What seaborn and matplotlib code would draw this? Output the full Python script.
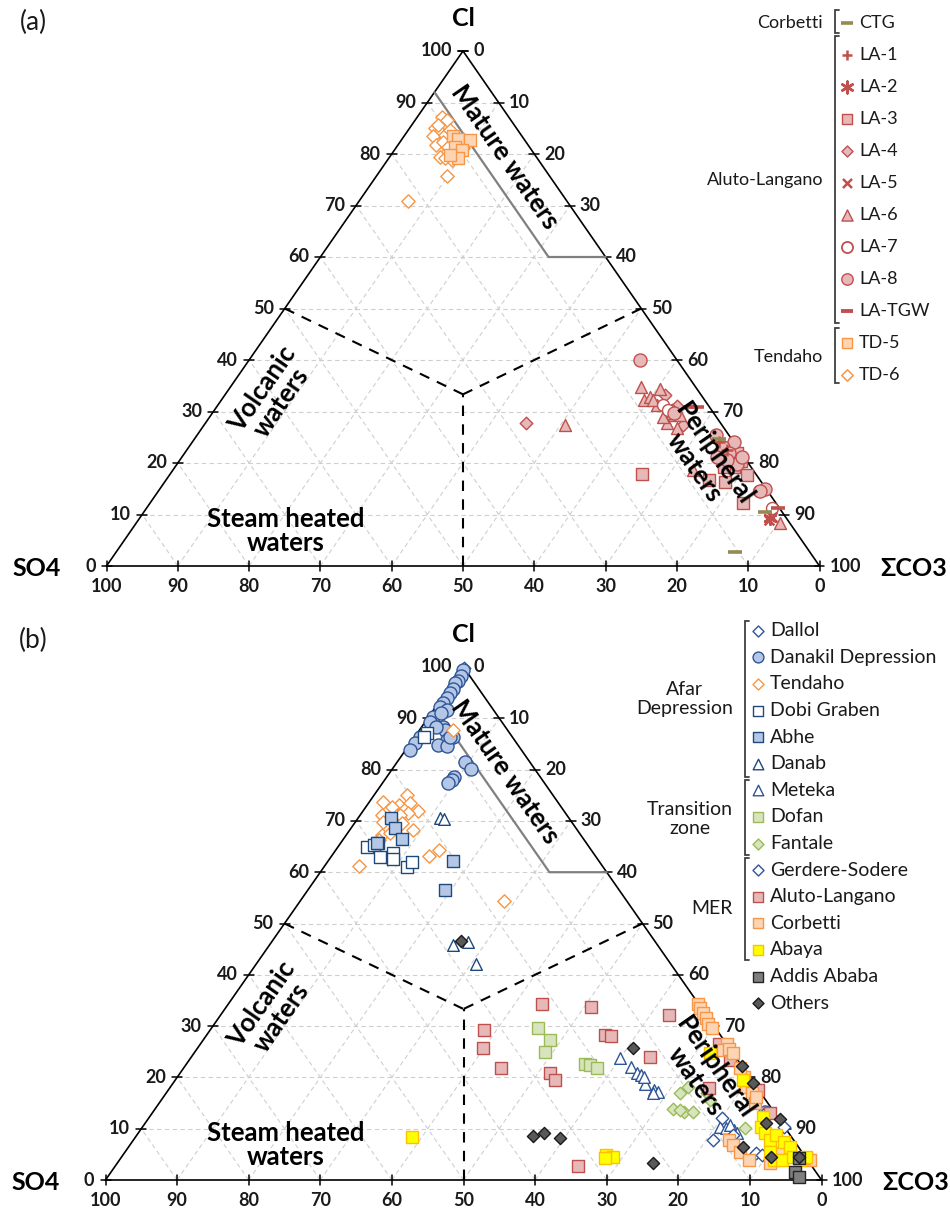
import numpy as np
import matplotlib
matplotlib.use("Agg")
import matplotlib.pyplot as plt
import seaborn as sns

sns.set_theme(style="white")
plt.rcParams['font.family'] = ['Lato', 'DejaVu Sans']

# ----------------------------------------------------------------------
# Composition data, % of (Cl + SO4 + ΣCO3); SO4 is the remainder.
# ----------------------------------------------------------------------
# (a) Corbetti / Aluto-Langano / Tendaho wells
ctg_cl = [10.5, 2.8, 24.6]
ctg_co3 = [87.1, 86.7, 73.6]
la1_cl = [24.1, 22.5]
la1_co3 = [73.8, 75.8]
la2_cl = [9.3]
la2_co3 = [88.4]
la3_cl = [17.9, 16.7, 16.4, 17.7, 12.2, 21.9, 20.3, 21.2, 19.3, 19.3]
la3_co3 = [66.2, 76.1, 78.5, 81.0, 83.2, 77.5, 78.9, 75.4, 78.3, 76.9]
la4_cl = [27.8, 33.2, 31.1, 27.4, 30.3]
la4_co3 = [44.9, 61.7, 64.4, 67.2, 64.1]
la5_cl = [8.9, 9.6]
la5_co3 = [88.4, 88.5]
la6_cl = [34.7, 32.2, 32.8, 34.3, 31.3, 29.3, 27.7, 26.7, 27.4, 8.4, 18.6, 29.7, 29.0, 29.3, 32.2]
la6_co3 = [57.6, 59.3, 59.8, 60.5, 61.5, 64.2, 64.7, 66.6, 50.6, 90.2, 73.0, 64.4, 63.6, 65.8, 60.6]
la7_cl = [31.3, 11.2, 14.5, 30.3]
la7_co3 = [62.4, 87.7, 84.2, 63.6]
la8_cl = [40.0, 25.4, 24.1, 23.2, 19.9, 21.9, 14.9, 14.5, 29.7, 20.6, 21.2, 21.2]
la8_co3 = [54.8, 72.8, 76.0, 74.9, 78.5, 76.3, 84.9, 84.4, 64.7, 76.7, 75.0, 78.5]
latgw_cl = [30.9, 30.9, 11.2]
latgw_co3 = [67.3, 66.4, 88.6]
td5_cl = [83.4, 83.0, 82.7, 81.4, 80.8, 79.2, 79.8]
td5_co3 = [6.9, 7.8, 9.6, 8.2, 9.4, 9.7, 8.3]
td6_cl = [87.2, 86.6, 85.0, 84.3, 83.4, 83.7, 81.7, 82.4, 80.4, 79.5, 78.8, 79.2,
          81.4, 81.1, 75.8, 70.9, 85.6, 84.7]
td6_co3 = [3.4, 4.4, 3.6, 4.6, 4.1, 5.6, 5.4, 6.0, 7.5, 7.0, 9.0, 7.9,
           7.2, 9.5, 9.9, 6.8, 3.7, 5.8]

# (b) Regional thermal waters
dallol_cl = [99.8]
dallol_co3 = [0.1]
danakil_cl = [99.4, 98.2, 97.3, 96.9, 95.8, 94.9, 93.9, 92.9, 92.3, 91.6, 90.3, 89.3,
              91.0, 88.4, 87.7, 86.4, 85.8, 84.8, 84.6, 86.4, 85.1, 83.8, 81.5, 80.2,
              78.6, 78.0, 77.3, 86.4, 88.4, 13.3]
danakil_co3 = [0.2, 0.5, 0.6, 0.4, 0.7, 0.7, 0.7, 0.7, 0.6, 1.9, 0.6, 0.7,
               1.4, 3.0, 3.6, 5.4, 4.8, 4.1, 5.4, 0.7, 0.7, 0.6, 9.4, 11.0,
               9.4, 9.4, 9.2, 4.9, 2.0, 85.5]
tendaho_cl = [75.0, 73.6, 73.1, 73.4, 72.8, 72.1, 72.0, 71.5, 71.2, 71.2, 69.7, 69.9,
              69.6, 68.2, 67.3, 67.6, 66.3, 64.3, 63.2, 61.2, 54.4, 87.7]
tendaho_co3 = [4.6, 1.9, 4.4, 5.8, 3.6, 5.6, 7.6, 6.5, 3.0, 5.5, 3.9, 5.2,
               6.6, 8.9, 4.9, 5.9, 5.0, 14.4, 13.6, 4.8, 28.4, 4.7]
dobi_cl = [87.1, 86.4, 65.0, 65.3, 65.7, 62.9, 63.7, 62.5, 61.0, 61.9]
dobi_co3 = [1.3, 1.3, 4.0, 4.8, 5.2, 6.9, 8.3, 8.9, 11.6, 11.8]
abhe_cl = [70.5, 68.6, 66.5, 65.6, 62.2, 56.5]
abhe_co3 = [4.6, 6.2, 8.1, 5.1, 17.5, 19.1]
danab_cl = [70.5, 70.3, 45.8, 46.3, 42.2]
danab_co3 = [11.4, 12.1, 25.7, 27.5, 30.7]
meteka_cl = [23.7, 22.1, 20.8, 20.5, 18.8, 17.5, 17.2, 20.1, 16.9,
             10.4, 10.1, 9.7, 10.7, 9.1]
meteka_co3 = [60.0, 62.4, 63.8, 64.6, 65.9, 67.8, 68.6, 65.1, 68.0,
              80.6, 81.6, 82.9, 81.9, 83.6]
dofan_cl = [29.6, 27.3, 25.0, 22.6, 22.4, 21.8]
dofan_co3 = [45.6, 48.5, 48.9, 55.6, 56.5, 57.7]
fantale_cl = [13.8, 17.0, 13.3, 13.3, 15.6, 10.1, 18.2, 13.6, 16.9]
fantale_co3 = [72.4, 71.7, 74.2, 75.4, 76.6, 84.2, 72.3, 73.4, 75.5]
gerdere_cl = [12.0, 7.8, 5.2, 4.9, 13.0, 10.4, 8.8]
gerdere_co3 = [80.1, 81.0, 88.3, 89.2, 85.6, 89.5, 83.2]
aluto_cl = [34.4, 33.8, 32.2, 28.3, 28.1, 29.2, 25.7, 21.8, 20.8, 19.5, 23.9, 17.9,
            2.8, 26.5, 23.4, 17.5, 13.1, 4.2]
aluto_co3 = [43.7, 50.9, 62.6, 55.6, 56.5, 38.2, 39.9, 44.4, 51.7, 53.0, 64.1, 75.3,
             64.6, 72.4, 75.5, 82.4, 86.2, 95.8]
corbetti_cl = [34.4, 33.5, 32.5, 31.5, 30.5, 29.6, 26.6, 25.3, 25.5, 20.1, 18.2, 16.9,
               15.0, 16.2, 7.8, 6.8, 5.5, 3.9, 3.9, 4.2, 3.3, 5.2, 21.8, 24.7]
corbetti_co3 = [65.6, 66.3, 67.2, 68.1, 68.9, 69.9, 73.5, 73.6, 74.4, 79.1, 80.4, 81.8,
                83.2, 82.8, 83.2, 84.2, 85.8, 87.9, 96.4, 95.4, 91.1, 91.8, 77.7, 75.3]
abaya_cl = [19.5, 24.7, 12.3, 10.4, 9.1, 7.8, 8.8, 7.5, 6.5, 5.5, 3.9, 3.9, 4.5, 3.9,
            4.5, 4.9, 4.4, 4.2, 8.3]
abaya_co3 = [79.3, 72.1, 85.7, 86.4, 87.5, 88.9, 89.3, 91.0, 92.4, 90.1, 91.4, 92.6,
             93.8, 95.1, 95.6, 67.5, 68.7, 67.7, 38.7]
addis_cl = [1.6, 0.6, 4.2]
addis_co3 = [95.5, 96.5, 94.8]
others_cl = [25.8, 22.3, 19.0, 11.9, 11.2, 6.5, 4.4, 4.4, 8.6, 9.2, 8.1, 3.4, 46.6]
others_co3 = [60.8, 77.7, 81.0, 88.2, 86.7, 85.8, 90.8, 94.6, 55.4, 56.7, 59.4, 74.7, 26.3]

# axis tick values
tick_vals = list(range(0, 101, 10))

# colours
RED, PINK = '#C0504D', '#E6B9B8'
ORANGE, PEACH = '#F79646', '#FCD5B5'
OLIVE = '#948A54'
NAVY, BLUE, LBLUE = '#1F497D', '#2F5597', '#B4C7E7'
GREEN, LGREEN = '#9BBB59', '#D7E4BD'
YELLOW, GOLD = '#FFFF00', '#FFC000'

W, H = 950, 1208
fig = plt.figure(figsize=(W / 100, H / 100), dpi=100)


def tern(cl, co3):
    cl = np.asarray(cl, float)
    co3 = np.asarray(co3, float)
    return co3 / 100 + cl / 200, cl / 100


def px_axes(left, base, width, height):
    return fig.add_axes([left / W, (H - base) / H, width / W, height / H])


def frame(ax, wpx, hpx):
    ax.set_xlim(0, 1)
    ax.set_ylim(0, 1)
    ax.axis('off')
    gk = dict(color='#CFCFCF', lw=0.8, ls=(0, (4, 3)), zorder=1)
    for k in range(10, 100, 10):
        f = k / 100
        ax.plot([f / 2, 1 - f / 2], [f, f], **gk)
        ax.plot([f, f + (1 - f) / 2], [0, 1 - f], **gk)
        ax.plot([1 - f, (1 - f) / 2], [0, 1 - f], **gk)
    ax.plot([0, 1, 0.5, 0], [0, 0, 1, 0], color='black', lw=1.2, zorder=2,
            solid_joinstyle='miter', clip_on=False)
    tx, ty = 5 / wpx, 5 / hpx
    tk = dict(color='black', lw=1.1, zorder=2, clip_on=False)
    lab = dict(fontsize=13, fontweight='bold', color='#1a1a1a')
    for v in tick_vals:
        f = v / 100
        ax.plot([f, f], [-ty, ty], **tk)
        ax.text(f, -21 / hpx, str(100 - v), ha='center', va='center', **lab)
        lx, ly = f / 2, f
        ax.plot([lx - tx, lx + tx], [ly, ly], **tk)
        ax.text(lx - 11 / wpx, ly, str(v), ha='right', va='center', **lab)
        rx = 1 - f / 2
        ax.plot([rx - tx, rx + tx], [ly, ly], **tk)
        ax.text(rx + 10 / wpx, ly, str(100 - v), ha='left', va='center', **lab)
    ck = dict(fontsize=18, fontweight='bold', color='black', va='center')
    ax.text(0.5, 1 + 33 / hpx, 'Cl', ha='center', **ck)
    ax.text(-70 / wpx, -2 / hpx, 'SO4', ha='center', **ck)
    ax.text(1 + 94 / wpx, -2 / hpx, 'ΣCO3', ha='center', **ck)
    # field boundaries
    dk = dict(color='black', lw=1.5, ls=(0, (5, 4)), zorder=2)
    cx, cy = tern(100 / 3, 100 / 3)
    for cl, co3 in [(50, 0), (50, 50), (0, 50)]:
        px, py = tern(cl, co3)
        ax.plot([px, cx], [py, cy], **dk)
    mx, my = tern([92, 60, 60], [0, 32, 40])
    ax.plot(mx, my, color='#808080', lw=1.6, zorder=2)
    rot = np.degrees(np.arctan2(hpx, wpx / 2))
    fk = dict(fontsize=18.5, fontweight='bold', color='black', ha='center',
              va='center', linespacing=1.0, zorder=5)
    ax.text(0.558, 0.795, 'Mature waters', rotation=-rot, **fk)
    ax.text(0.232, 0.33, 'Volcanic\nwaters', rotation=rot, **fk)
    ax.text(0.252, 0.068, 'Steam heated\nwaters', **fk)
    ax.text(0.838, 0.205, 'Peripheral\nwaters', rotation=-rot, **fk)


def draw(ax, cl, co3, marker, face, edge, size, lw=1.0, z=3):
    x, y = tern(cl, co3)
    sns.scatterplot(x=x, y=y, ax=ax, marker=marker, s=size ** 2, color=face,
                    edgecolor=edge, linewidth=lw, zorder=z, clip_on=False,
                    legend=False)


def draw_line_marker(ax, cl, co3, marker, color, size, lw=1.8, z=3):
    x, y = tern(cl, co3)
    sns.scatterplot(x=x, y=y, ax=ax, marker=marker, s=size ** 2, color=color,
                    linewidth=lw, zorder=z, clip_on=False, legend=False)


# ---------------- panel (a) ----------------
axa = px_axes(106.5, 566, 713, 515)
frame(axa, 713, 515)
draw(axa, td6_cl, td6_co3, 'D', 'white', ORANGE, 6.8)
draw(axa, td5_cl, td5_co3, 's', PEACH, ORANGE, 8.8)
draw(axa, la3_cl, la3_co3, 's', PINK, RED, 8.6)
draw(axa, la4_cl, la4_co3, 'D', PINK, RED, 6.4)
draw(axa, la6_cl, la6_co3, '^', PINK, RED, 8.6)
draw(axa, la7_cl, la7_co3, 'o', 'white', RED, 8.6)
draw(axa, la8_cl, la8_co3, 'o', PINK, RED, 9.4)
draw_line_marker(axa, la1_cl, la1_co3, '+', RED, 8)
draw_line_marker(axa, la2_cl, la2_co3, (6, 2, 0), RED, 9)
draw_line_marker(axa, la5_cl, la5_co3, 'x', RED, 7)
draw_line_marker(axa, latgw_cl, latgw_co3, '_', RED, 9.5, lw=2.6)
draw_line_marker(axa, ctg_cl, ctg_co3, '_', OLIVE, 9.5, lw=2.6)

# ---------------- panel (b) ----------------
axb = px_axes(105.5, 1180, 716, 513)
frame(axb, 716, 513)
draw(axb, dallol_cl, dallol_co3, 'D', 'white', BLUE, 6.4)
draw(axb, danakil_cl, danakil_co3, 'o', LBLUE, BLUE, 9.4)
draw(axb, tendaho_cl, tendaho_co3, 'D', 'white', ORANGE, 6.8)
draw(axb, dobi_cl, dobi_co3, 's', 'white', NAVY, 8.4)
draw(axb, abhe_cl, abhe_co3, 's', LBLUE, NAVY, 8.4)
draw(axb, danab_cl, danab_co3, '^', 'white', NAVY, 8.4)
draw(axb, meteka_cl, meteka_co3, '^', 'white', BLUE, 8.4)
draw(axb, dofan_cl, dofan_co3, 's', LGREEN, GREEN, 8.4)
draw(axb, fantale_cl, fantale_co3, 'D', LGREEN, GREEN, 6.4)
draw(axb, gerdere_cl, gerdere_co3, 'D', 'white', BLUE, 6.4)
draw(axb, aluto_cl, aluto_co3, 's', PINK, RED, 8.4)
draw(axb, corbetti_cl, corbetti_co3, 's', PEACH, ORANGE, 8.4)
draw(axb, abaya_cl, abaya_co3, 's', YELLOW, GOLD, 8.4)
draw(axb, addis_cl, addis_co3, 's', '#7F7F7F', '#262626', 8.4)
draw(axb, others_cl, others_co3, 'D', '#595959', '#1A1A1A', 6.2)

# ---------------- legends & panel tags (pixel overlay) ----------------
ov = fig.add_axes([0, 0, 1, 1], zorder=10)
ov.set_xlim(0, W)
ov.set_ylim(H, 0)
ov.axis('off')
ov.patch.set_alpha(0)

ov.text(33, 22, '(a)', fontsize=19, ha='center', va='center', color='#1a1a1a')
ov.text(33, 640, '(b)', fontsize=19, ha='center', va='center', color='#1a1a1a')


def bracket(x, y0, y1):
    ov.plot([x + 4, x, x, x + 4], [y0, y0, y1, y1], color='#404040', lw=1.3,
            solid_joinstyle='miter')


def entry(x, y, label, marker, face, edge, size, lw, tx, fs):
    if face is None:
        ov.scatter([x], [y], marker=marker, s=size ** 2, color=edge, linewidths=lw)
    else:
        ov.scatter([x], [y], marker=marker, s=size ** 2, facecolor=face,
                   edgecolor=edge, linewidths=lw)
    ov.text(tx, y, label, fontsize=fs, ha='left', va='center', color='#1a1a1a')


def group_label(x, y, text, fs):
    ov.text(x, y, text, fontsize=fs, ha='right', va='center', color='#1a1a1a',
            multialignment='center', linespacing=1.2)


# legend (a)
bracket(834.5, 10, 33)
bracket(834.5, 36, 323)
bracket(834.5, 328, 383)
group_label(823, 22.7, 'Corbetti', 13)
group_label(823, 180, 'Aluto-Langano', 13)
group_label(823, 357, 'Tendaho', 13)
mxa, txa = 847, 859
rows_a = [
    ('CTG', '_', None, OLIVE, 8, 2.6),
    ('LA-1', '+', None, RED, 7.5, 1.8),
    ('LA-2', (6, 2, 0), None, RED, 8.5, 1.8),
    ('LA-3', 's', PINK, RED, 7.8, 1.0),
    ('LA-4', 'D', PINK, RED, 5.6, 1.0),
    ('LA-5', 'x', None, RED, 6.5, 1.8),
    ('LA-6', '^', PINK, RED, 8.0, 1.0),
    ('LA-7', 'o', 'white', RED, 8.0, 1.3),
    ('LA-8', 'o', PINK, RED, 8.2, 1.0),
    ('LA-TGW', '_', None, RED, 8, 2.8),
    ('TD-5', 's', PEACH, ORANGE, 7.8, 1.0),
    ('TD-6', 'D', 'white', ORANGE, 5.8, 1.1),
]
for i, (lab, mk, fc, ec, sz, lw) in enumerate(rows_a):
    entry(mxa, 22.7 + 32.0 * i, lab, mk, fc, ec, sz, lw, txa, 13)

# legend (b)
bracket(745, 621, 777)
bracket(745, 780, 855)
bracket(745, 858, 960)
group_label(733, 699, 'Afar\nDepression', 14)
group_label(733, 819, 'Transition\nzone', 14)
group_label(733, 909, 'MER', 14)
mxb, txb = 757.5, 770
rows_b = [
    ('Dallol', 'D', 'white', BLUE, 5.6),
    ('Danakil Depression', 'o', LBLUE, BLUE, 7.8),
    ('Tendaho', 'D', 'white', ORANGE, 5.6),
    ('Dobi Graben', 's', 'white', NAVY, 7.4),
    ('Abhe', 's', LBLUE, NAVY, 7.4),
    ('Danab', '^', 'white', NAVY, 7.6),
    ('Meteka', '^', 'white', BLUE, 7.6),
    ('Dofan', 's', LGREEN, GREEN, 7.4),
    ('Fantale', 'D', LGREEN, GREEN, 5.6),
    ('Gerdere-Sodere', 'D', 'white', BLUE, 5.6),
    ('Aluto-Langano', 's', PINK, RED, 7.4),
    ('Corbetti', 's', PEACH, ORANGE, 7.4),
    ('Abaya', 's', YELLOW, GOLD, 7.4),
    ('Addis Ababa', 's', '#7F7F7F', '#262626', 7.4),
    ('Others', 'D', '#595959', '#1A1A1A', 5.6),
]
for i, (lab, mk, fc, ec, sz) in enumerate(rows_b):
    entry(mxb, 630.7 + 26.6 * i, lab, mk, fc, ec, sz, 1.0, txb, 14)

fig.savefig('out.png', dpi=100, facecolor='white')
